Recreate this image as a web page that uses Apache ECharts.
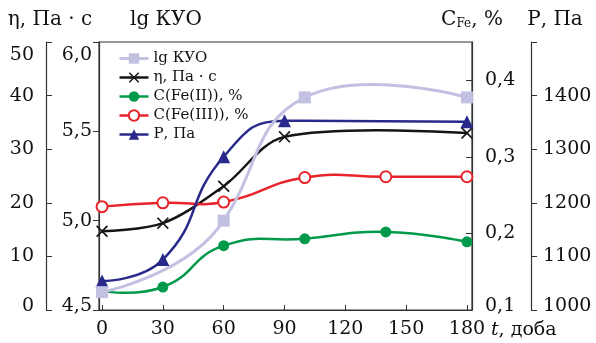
<!DOCTYPE html>
<html><head><meta charset="utf-8">
<script src="https://cdn.jsdelivr.net/npm/echarts@6/dist/echarts.min.js"></script>
<style>html,body{margin:0;padding:0;background:#fff}#c{width:596px;height:343px}</style>
</head><body><div id="c"></div>
<script>
// tick values / labels
const tTicks = [0, 30, 60, 90, 120, 150, 180];
const etaTicks = [0, 10, 20, 30, 40, 50];
const lgTicks = [4.5, 5.0, 5.5, 6.0];
const cTicks = [0.1, 0.2, 0.3, 0.4];
const pTicks = [1000, 1100, 1200, 1300, 1400, 1500];
const pLabels = [1000, 1100, 1200, 1300, 1400];

// series names
const names = ['lg КУО', 'η, Па · с', 'C(Fe(II)), %', 'C(Fe(III)), %', 'Р, Па'];

// data
const tLg = [0, 60, 100, 180];
const lgKUO = [4.60, 5.00, 5.69, 5.69];
const tEta = [0, 30, 60, 90, 180];
const eta = [14.7, 16.2, 23.1, 32.3, 33.0];
const tFe = [0, 30, 60, 100, 140, 180];
const feII = [0.125, 0.130, 0.184, 0.193, 0.202, 0.189];
const feIII = [0.235, 0.240, 0.241, 0.273, 0.274, 0.274];
const tP = [0, 30, 60, 90, 180];
const pPa = [1054, 1094, 1286, 1353, 1351];

const FONT = "'DejaVu Serif', serif";
const AX = '#333';
const TXT = '#111';
const pair = (xs, ys) => xs.map((x, i) => [x, ys[i]]);
const comma = v => v.toFixed(1).replace('.', ',');

function edgeLabel(minV, maxV, fmt) {
  return function (v) {
    const s = fmt(v);
    if (Math.abs(v - maxV) < 1e-9) return '{top|' + s + '}';
    if (Math.abs(v - minV) < 1e-9) return '{bot|' + s + '}';
    return s;
  };
}
const richEdge = {
  top: { fontFamily: FONT, fontSize: 19, color: TXT, padding: [26, 0, 0, 0] },
  bot: { fontFamily: FONT, fontSize: 19, color: TXT, padding: [0, 0, 7, 0] }
};
const labelBase = { fontFamily: FONT, fontSize: 19, color: TXT, rich: richEdge };

const clampTo = (v, a, b) => Math.max(Math.min(a, b), Math.min(Math.max(a, b), v));

// smooth bezier through points, computed in pixel space
// opt: { smooth, constrain, bias (per point: 0 = neighbour chord, 1 = chord to next point) }
function ctrlPoints(P, opt) {
  const n = P.length, cps = [], smooth = opt.smooth;
  for (let i = 0; i < n; i++) {
    if (i === 0 || i === n - 1) { cps.push({ prev: P[i], next: P[i] }); continue; }
    const pr = P[i - 1], cu = P[i], nx = P[i + 1];
    const b = opt.bias ? opt.bias[i] : 0;
    const vx = (1 - b) * (nx[0] - pr[0]) + b * 2 * (nx[0] - cu[0]);
    const vy = (1 - b) * (nx[1] - pr[1]) + b * 2 * (nx[1] - cu[1]);
    const l0 = Math.hypot(cu[0] - pr[0], cu[1] - pr[1]);
    const l1 = Math.hypot(nx[0] - cu[0], nx[1] - cu[1]);
    const r = l1 / (l0 + l1);
    let n1 = [cu[0] + vx * smooth * r, cu[1] + vy * smooth * r];
    let p0 = [cu[0] - vx * smooth * (1 - r), cu[1] - vy * smooth * (1 - r)];
    if (opt.constrain) {
      n1 = [clampTo(n1[0], cu[0], nx[0]), clampTo(n1[1], cu[1], nx[1])];
      let dx = n1[0] - cu[0], dy = n1[1] - cu[1];
      p0 = [cu[0] - dx * l0 / l1, cu[1] - dy * l0 / l1];
      p0 = [clampTo(p0[0], pr[0], cu[0]), clampTo(p0[1], pr[1], cu[1])];
      dx = cu[0] - p0[0]; dy = cu[1] - p0[1];
      n1 = [cu[0] + dx * l1 / l0, cu[1] + dy * l1 / l0];
    }
    cps.push({ prev: p0, next: n1 });
  }
  return cps;
}
function curveSeries(xs, ys, yIdx, color, width, z, opt) {
  return {
    type: 'custom', yAxisIndex: yIdx, z: z, silent: true,
    data: pair(xs, ys), encode: { x: 0, y: 1 },
    renderItem: function (params, api) {
      const i = params.dataIndex;
      if (i >= xs.length - 1) return null;
      const P = xs.map((x, j) => api.coord([x, ys[j]]));
      const c = ctrlPoints(P, opt);
      return {
        type: 'bezierCurve',
        shape: {
          x1: P[i][0], y1: P[i][1], x2: P[i + 1][0], y2: P[i + 1][1],
          cpx1: c[i].next[0], cpy1: c[i].next[1], cpx2: c[i + 1].prev[0], cpy2: c[i + 1].prev[1]
        },
        style: { stroke: color, lineWidth: width, fill: 'none', lineCap: 'round' }
      };
    }
  };
}

const COL = ['#c3c1e2', '#151515', '#009a4a', '#e82329', '#29298b'];
const LW = [3, 2.5, 2.5, 2.5, 2.5];

const chart = echarts.init(document.getElementById('c'), null, { renderer: 'canvas' });
const XSYM = 'path://M0,1 L1,0 L5,4 L9,0 L10,1 L6,5 L10,9 L9,10 L5,6 L1,10 L0,9 L4,5 Z';

function markSeries(k, xs, ys, yIdx, symbol, size, extra) {
  return Object.assign({
    name: names[k], type: 'line', yAxisIndex: yIdx, data: pair(xs, ys), z: 5,
    symbol: symbol, symbolSize: size, showAllSymbol: true, color: COL[k],
    lineStyle: { width: LW[k], opacity: 0 }
  }, extra || {});
}

const yBase = (pos, off, min, max) => ({
  type: 'value', position: pos, offset: off, min: min, max: max,
  axisLine: { show: true, onZero: false, lineStyle: { color: AX, width: 1.2 } },
  splitLine: { show: false }
});

chart.setOption({
  animation: false,
  backgroundColor: '#fff',
  grid: { left: 99, right: 124, top: 42, bottom: 33, show: true, borderColor: AX, borderWidth: 1.2 },
  legend: {
    orient: 'vertical', left: 113, top: 46, itemWidth: 29, itemHeight: 13, itemGap: 4,
    textStyle: { fontFamily: FONT, fontSize: 15, color: TXT, lineHeight: 15 },
    data: names.map((n, k) => ({ name: n, lineStyle: { opacity: 1, width: LW[k], color: COL[k] } }))
  },
  xAxis: {
    type: 'value', min: -1.5, max: 182.5,
    axisLine: { show: true, onZero: false, lineStyle: { color: AX, width: 1.2 } },
    axisTick: { show: true, inside: true, length: 5, customValues: tTicks, lineStyle: { color: AX } },
    axisLabel: { customValues: tTicks, margin: 10, fontFamily: FONT, fontSize: 19, color: TXT },
    splitLine: { show: false },
    name: '{it|t}, доба', nameLocation: 'end', nameGap: 10,
    nameTextStyle: {
      fontFamily: FONT, fontSize: 19, color: TXT, align: 'left', verticalAlign: 'top', padding: [11, 0, 0, 0],
      rich: { it: { fontFamily: FONT, fontSize: 19, fontStyle: 'italic', color: TXT } }
    }
  },
  yAxis: [
    Object.assign(yBase('left', 53, 0, 50), { // eta
      axisTick: { show: true, inside: true, length: 6, customValues: etaTicks, lineStyle: { color: AX } },
      axisLabel: Object.assign({ customValues: etaTicks, margin: 12, formatter: edgeLabel(0, 50, v => String(v)) }, labelBase),
      name: 'η, Па · с', nameLocation: 'end', nameGap: 12,
      nameTextStyle: { fontFamily: FONT, fontSize: 20, color: TXT, align: 'center', verticalAlign: 'bottom', padding: [0, 0, 0, 8] }
    }),
    Object.assign(yBase('left', 0, 4.5, 6.0), { // lg KUO
      axisTick: { show: true, inside: false, length: 6, customValues: lgTicks, lineStyle: { color: AX } },
      axisLabel: Object.assign({ customValues: lgTicks, margin: 7, formatter: edgeLabel(4.5, 6.0, comma) }, labelBase),
      name: 'lg КУО', nameLocation: 'end', nameGap: 12,
      nameTextStyle: { fontFamily: FONT, fontSize: 20, color: TXT, align: 'left', verticalAlign: 'bottom', padding: [0, 0, 0, 31] }
    }),
    Object.assign(yBase('right', 0, 0.1, 0.45), { // C_Fe
      axisTick: { show: true, inside: true, length: 6, customValues: cTicks, lineStyle: { color: AX } },
      axisLabel: Object.assign({ customValues: cTicks, margin: 13, formatter: edgeLabel(0.1, 9, comma) }, labelBase),
      name: 'C{sub|Fe}, %', nameLocation: 'end', nameGap: 12,
      nameTextStyle: {
        fontFamily: FONT, fontSize: 20, color: TXT, align: 'center', verticalAlign: 'bottom',
        rich: { sub: { fontFamily: FONT, fontSize: 12, color: TXT, verticalAlign: 'bottom', padding: [8, 0, 0, 0], lineHeight: 20 } }
      }
    }),
    Object.assign(yBase('right', 59, 1000, 1500), { // P
      axisTick: { show: true, inside: false, length: 6, customValues: pTicks, lineStyle: { color: AX } },
      axisLabel: Object.assign({ customValues: pLabels, margin: 12, formatter: edgeLabel(1000, 99999, v => String(v)) }, labelBase),
      name: 'Р, Па', nameLocation: 'end', nameGap: 12,
      nameTextStyle: { fontFamily: FONT, fontSize: 20, color: TXT, align: 'center', verticalAlign: 'bottom', padding: [0, 0, 0, 48] }
    })
  ],
  series: [
    curveSeries(tLg, lgKUO, 1, COL[0], LW[0], 3, { smooth: 0.45, bias: [0, 1, 0, 0] }),
    curveSeries(tEta, eta, 0, COL[1], LW[1], 2, { smooth: 0.33 }),
    curveSeries(tFe, feII, 2, COL[2], LW[2], 2, { smooth: 0.5 }),
    curveSeries(tFe, feIII, 2, COL[3], LW[3], 2, { smooth: 0.5 }),
    curveSeries(tP, pPa, 3, COL[4], LW[4], 2, { smooth: 0.5, constrain: true }),
    markSeries(0, tLg, lgKUO, 1, 'rect', 12, { z: 6 }),
    markSeries(1, tEta, eta, 0, XSYM, 12),
    markSeries(2, tFe, feII, 2, 'circle', 11),
    markSeries(3, tFe, feIII, 2, 'emptyCircle', 11, { itemStyle: { borderWidth: 1.5 } }),
    markSeries(4, tP, pPa, 3, 'triangle', 13)
  ]
});
</script></body></html>
